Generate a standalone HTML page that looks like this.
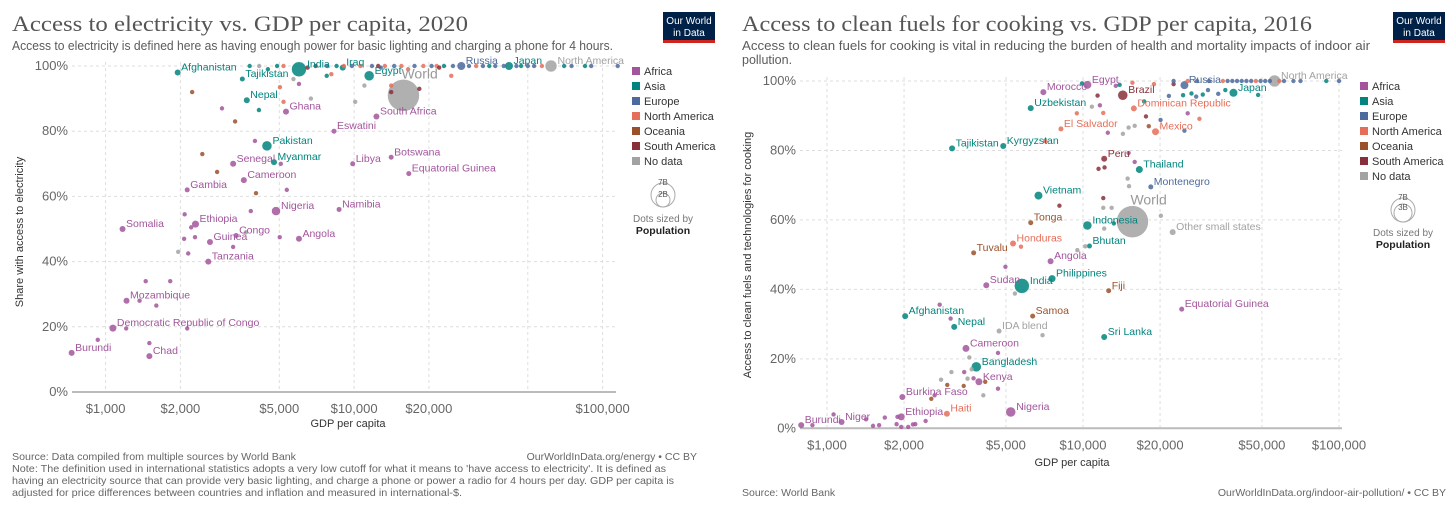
<!DOCTYPE html>
<html><head><meta charset="utf-8"><style>
html,body{margin:0;padding:0;background:#fff;}
svg{display:block;font-family:"Liberation Sans",sans-serif;}
</style></head><body>
<svg id="root" width="1456" height="524" viewBox="0 0 1456 524" xmlns="http://www.w3.org/2000/svg">
<rect x="0" y="0" width="1456" height="524" fill="#fff"/>
<g id="c1">
  <text x="12" y="31" font-family="Liberation Serif,serif" font-size="22" fill="#555" textLength="456" lengthAdjust="spacingAndGlyphs">Access to electricity vs. GDP per capita, 2020</text>
  <text x="12" y="50" font-size="12.5" fill="#5b5b5b" textLength="601" lengthAdjust="spacingAndGlyphs">Access to electricity is defined here as having enough power for basic lighting and charging a phone for 4 hours.</text>
  <g><rect x="663" y="12" width="52" height="30" fill="#002147"/><rect x="663" y="40" width="52" height="3" fill="#ce261e"/><text x="689" y="24" font-size="10" fill="#fff" text-anchor="middle">Our World</text><text x="689" y="36" font-size="10" fill="#fff" text-anchor="middle">in Data</text></g>
  <text transform="translate(23,232) rotate(-90)" font-size="11" fill="#333" text-anchor="middle">Share with access to electricity</text>
  <text x="348" y="427" font-size="11" fill="#333" text-anchor="middle">GDP per capita</text>
  <g id="c1grid"></g><g id="c1dots"></g><g id="c1labels"></g>
  <g font-size="11" fill="#333" id="c1leg"></g>
  <g><circle cx="663" cy="195" r="12" fill="none" stroke="#aaa"/><circle cx="663" cy="200" r="7" fill="none" stroke="#aaa"/><text x="663" y="185" font-size="8" fill="#555" text-anchor="middle">7B</text><text x="663" y="197" font-size="8" fill="#555" text-anchor="middle">2B</text><text x="663" y="222" font-size="10" fill="#777" text-anchor="middle">Dots sized by</text><text x="663" y="234" font-size="10.5" fill="#222" font-weight="bold" text-anchor="middle">Population</text></g>
  <g font-size="10.5" fill="#666">
    <text x="12" y="460" textLength="284" lengthAdjust="spacingAndGlyphs">Source: Data compiled from multiple sources by World Bank</text>
    <text x="697" y="460" text-anchor="end">OurWorldInData.org/energy • CC BY</text>
    <text x="12" y="472" textLength="654" lengthAdjust="spacingAndGlyphs">Note: The definition used in international statistics adopts a very low cutoff for what it means to 'have access to electricity'. It is defined as</text>
    <text x="12" y="484" textLength="662" lengthAdjust="spacingAndGlyphs">having an electricity source that can provide very basic lighting, and charge a phone or power a radio for 4 hours per day. GDP per capita is</text>
    <text x="12" y="496" textLength="450" lengthAdjust="spacingAndGlyphs">adjusted for price differences between countries and inflation and measured in international-$.</text>
  </g>
</g>
<g id="c2">
  <text x="742" y="31" font-family="Liberation Serif,serif" font-size="22" fill="#555" textLength="570" lengthAdjust="spacingAndGlyphs">Access to clean fuels for cooking vs. GDP per capita, 2016</text>
  <text x="742" y="50" font-size="12.5" fill="#5b5b5b" textLength="628" lengthAdjust="spacingAndGlyphs">Access to clean fuels for cooking is vital in reducing the burden of health and mortality impacts of indoor air</text>
  <text x="742" y="64" font-size="12.5" fill="#5b5b5b">pollution.</text>
  <g><rect x="1393" y="12" width="52" height="30" fill="#002147"/><rect x="1393" y="40" width="52" height="3" fill="#ce261e"/><text x="1419" y="24" font-size="10" fill="#fff" text-anchor="middle">Our World</text><text x="1419" y="36" font-size="10" fill="#fff" text-anchor="middle">in Data</text></g>
  <text transform="translate(751,255) rotate(-90)" font-size="11" fill="#333" text-anchor="middle">Access to clean fuels and technologies for cooking</text>
  <text x="1072" y="466" font-size="11" fill="#333" text-anchor="middle">GDP per capita</text>
  <g id="c2grid"></g><g id="c2dots"></g><g id="c2labels"></g>
  <g font-size="11" fill="#333" id="c2leg"></g>
  <g><circle cx="1403" cy="210" r="12" fill="none" stroke="#aaa"/><circle cx="1403" cy="213" r="9" fill="none" stroke="#aaa"/><text x="1403" y="200" font-size="8" fill="#555" text-anchor="middle">7B</text><text x="1403" y="210" font-size="8" fill="#555" text-anchor="middle">3B</text><text x="1403" y="236" font-size="10" fill="#777" text-anchor="middle">Dots sized by</text><text x="1403" y="248" font-size="10.5" fill="#222" font-weight="bold" text-anchor="middle">Population</text></g>
  <g font-size="10.5" fill="#666">
    <text x="742" y="496">Source: World Bank</text>
    <text x="1446" y="496" text-anchor="end">OurWorldInData.org/indoor-air-pollution/ • CC BY</text>
  </g>
</g>
</svg>
<script>
const regionNames = ["Africa","Asia","Europe","North America","Oceania","South America","No data"];
const regionColors = {A:"#a2559c",S:"#00847e",E:"#4c6a9c",N:"#e56e5a",O:"#9a5129",M:"#883039",X:"#a2a2a2"};
const regionKeys = ["A","S","E","N","O","M","X"];
const yTicks = [0,20,40,60,80,100];

const c1XTicks = [1000,2000,5000,10000,20000,100000];
const c1XTickLabels = ["$1,000","$2,000","$5,000","$10,000","$20,000","$100,000"];
const c1XGrid = [1000,2000,5000,10000,20000,50000,100000];
const c1Gdp = [730,1500,1070,1214,1170,2130,3260,3600,2300,2630,2590,3350,4850,6000,8700,4460,4760,5320,3700,8300,9870,14100,16600,12300,15800,6000,1950,3550,9000,11500,27000,42000,62000,
 2230,2940,3320,4140,2450,2810,3990,5070,4030,5360,3840,2080,2210,2290,2070,1960,2150,3260,3670,5020,1450,1820,1370,1600,1210,2130,930,1500,5030,5200,6700,5700,6000,10100,11000,14100,14100,18300,7760,8100,24600,
 3800,4150,4900,5200,7000,7800,8500,9100,9800,10600,11800,12500,13300,14500,15500,17500,19000,20500,21500,23000,25000,29000,31000,33000,35000,37000,40000,45000,47000,50000,53000,57000,70000,75000,85000,90000,115000,4500,6500,12800,16500,22000];
const c1Pct = [12,11,19.6,28,50,62,70,65,51.5,46,40,48,55.5,47,56,75.5,70.5,86,89.5,80,70,72,67,84.5,91,99,98,96,99.5,97,100,100,100,
 92,87,83,86.5,73,67.5,77,70,61,62,55.5,54.5,50.5,47.5,47,43,42.5,44.5,49,47.5,34,34,28,26.5,19.5,19.5,16,15,93.5,89,90,96,94.5,89,94,94,92,93,97,97.5,97,
 100,100,100,100,100,100,100,100,100,100,100,100,100,100,100,100,100,100,100,100,100,100,100,100,100,100,100,100,100,100,100,100,100,100,100,100,100,99,99.5,99.5,99,99.5];
const c1Reg = ["A","A","A","A","A","A","A","A","A","A","A","A","A","A","A","S","S","A","S","A","A","A","A","A","X","S","S","S","S","S","E","S","X",
 "O","A","O","S","O","O","A","A","O","A","A","A","A","A","A","X","A","A","X","A","A","A","A","A","A","A","A","A","N","N","X","X","A","X","X","N","M","M","S","N","N",
 "S","X","S","N","M","E","S","N","E","N","E","M","N","E","N","E","N","E","N","S","E","E","N","E","S","E","E","E","S","E","E","N","S","E","S","E","E","S","M","E","N","M"];
const c1Pop = [3,3,3.5,3,3,2.5,3,3,3.5,3,3,2.5,4.5,3,2.5,5,3,3,3,2.5,2.5,2.5,2.5,3,16,7.5,3,2.5,3,5,4,4,6];
const c1Lab = ["Burundi","Chad","Democratic Republic of Congo","Mozambique","Somalia","Gambia","Senegal","Cameroon","Ethiopia","Guinea","Tanzania","Congo","Nigeria","Angola","Namibia","Pakistan","Myanmar","Ghana","Nepal","Eswatini","Libya","Botswana","Equatorial Guinea","South Africa","World","India","Afghanistan","Tajikistan","Iraq","Egypt","Russia","Japan","North America"];

const c2XTicks = [1000,2000,5000,10000,20000,50000,100000];
const c2XTickLabels = ["$1,000","$2,000","$5,000","$10,000","$20,000","$50,000","$100,000"];
const c2Gdp = [793,1140,1950,1970,2940,5220,3920,3830,3490,3140,2020,6360,4700,12100,24300,12600,4190,5770,7570,7470,3740,5330,6250,10400,10600,15600,22400,6700,18400,16600,12100,3080,4880,8200,6250,19200,15800,7000,10400,14300,24900,38700,56000,
 877,1061,1420,1513,1598,1682,1870,1885,1950,2076,2166,2213,2428,2632,2555,2755,2790,2950,3040,3062,3420,3435,3540,3597,3674,3737,4080,4150,4655,4655,4977,5420,5725,6950,8090,12000,12000,12940,12100,10210,9505,20150,14940,15130,15920,15070,11500,12140,7130,9460,10830,11640,12000,12500,14320,15070,15920,17330,17620,18070,20090,22590,24600,24900,25640,26530,27680,28500,29370,30780,33750,35970,48310,11400,13430,13900,15600,18930,9910,21650,13200,
 22590,25640,27900,31040,35200,36720,38300,39970,41690,43500,45400,47330,49400,51500,53700,58480,60970,66370,70750,89200,100000];
const c2Pct = [0.9,1.8,3.3,9,4.2,4.7,13.4,17.7,23,29.2,32.3,32.3,28,26.3,34.3,39.6,41.2,41,43.1,48.1,50.5,53.2,59.2,58.4,52.5,59.5,56.5,67,69.5,74.5,77.6,80.6,81.3,86.2,92.2,85.4,92.1,96.8,98.9,95.9,98.8,96.6,100,
 0.9,4.0,2.6,0.7,0.9,3.1,1.2,3.3,0.4,0.4,1.1,1.2,2.1,9.5,8.5,35.6,14.0,12.5,31.6,16.2,12.2,16.2,14.3,20.4,17.0,14.4,9.5,13.4,11.4,21.7,46.5,38.8,52.3,26.8,64.1,66.3,63.5,63.5,57.5,52.4,51.3,61.2,71.9,69.7,76.7,79.3,74.7,75.1,82.7,90.7,92.6,93.0,90.8,85.1,84.8,86.6,87.1,94.1,89.8,87.0,88.8,99.1,95.9,85.7,90.7,96.4,95.5,89.1,96.1,97.4,96.3,97.4,96.0,95.8,98.6,98.9,99.5,99.1,99.3,95.7,59,
 100,100,100,100,100,100,100,100,100,100,100,100,100,100,100,100,100,100,100,100,100];
const c2Reg = ["A","A","A","A","N","A","A","S","A","S","S","O","X","S","A","O","A","S","S","A","O","N","O","S","S","X","X","S","E","S","M","S","S","N","S","N","N","A","A","M","E","S","X",
 "A","A","A","A","A","A","A","A","A","A","A","A","A","A","O","A","X","O","A","X","O","A","X","X","X","A","X","O","A","A","A","X","N","X","M","M","X","X","X","X","X","X","X","X","A","A","M","M","N","N","X","A","N","A","X","X","X","S","M","O","E","M","S","E","A","S","E","N","S","E","E","S","S","M","A","S","N","N","S","E","S",
 "E","N","E","E","N","E","E","E","E","E","E","N","E","E","E","N","E","E","E","S","E"];
const c2Pop = [3,3,3.5,3,3,5,3.5,5,3.5,3,3,2.5,2.5,3,2.5,2.5,3,7.5,3.5,3,2.5,3,2.5,4.5,2.5,16,3,4,2.5,3.5,3,3,3,2.5,3,3.5,3,3,4,5,4,4,6];
const c2Lab = ["Burundi","Niger","Ethiopia","Burkina Faso","Haiti","Nigeria","Kenya","Bangladesh","Cameroon","Nepal","Afghanistan","Samoa","IDA blend","Sri Lanka","Equatorial Guinea","Fiji","Sudan","India","Philippines","Angola","Tuvalu","Honduras","Tonga","Indonesia","Bhutan","World","Other small states","Vietnam","Montenegro","Thailand","Peru","Tajikistan","Kyrgyzstan","El Salvador","Uzbekistan","Mexico","Dominican Republic","Morocco","Egypt","Brazil","Russia","Japan","North America"];

const NS = "http://www.w3.org/2000/svg";
function mk(tag, attrs, parent){ const e=document.createElementNS(NS,tag); for(const k in attrs) e.setAttribute(k,attrs[k]); parent.appendChild(e); return e; }

function drawChart(p, gdp, pct, reg, pop, lab, xTicks, xTickLabels, xGrid){
  const xs = v => p.x0 + (Math.log10(v)-3)*p.dec;
  const ys = v => p.y0 - v*p.py;
  const grid = document.getElementById(p.id+"grid");
  for (const t of yTicks){
    const y = ys(t);
    if (t>0){
      const l = mk("line",{x1:p.left,x2:p.right,y1:y,y2:y,stroke:"#ddd","stroke-dasharray":"3,3"},grid);
      
      
    }
    const tx = mk("text",{x:p.left-4,y:y+4,"font-size":13,fill:"#666","text-anchor":"end"},grid);
    tx.textContent = t+"%";
    
    
  }
  for (const g of xGrid){
    const x = xs(g);
    const l = mk("line",{x1:x,x2:x,y1:ys(100)-4,y2:ys(0),stroke:"#ddd","stroke-dasharray":"3,3"},grid);
    
    
  }
  xTicks.forEach((g,i)=>{
    const tx = mk("text",{x:xs(g),y:ys(0)+21,"font-size":13,fill:"#666","text-anchor":"middle"},grid);
    tx.textContent = xTickLabels[i];
    
    
  });
  const ax = mk("line",{x1:p.left,x2:p.right,y1:ys(0),y2:ys(0),stroke:"#bbb","stroke-width":2},grid);
  
  
  const dots = document.getElementById(p.id+"dots");
  const labels = document.getElementById(p.id+"labels");
  const order = gdp.map((_,i)=>i).sort((a,b)=>(pop[b]||2.2)-(pop[a]||2.2));
  for (const i of order){
    const r = pop[i] || 2.2;
    const c = mk("circle",{cx:xs(gdp[i]),cy:ys(pct[i]),r:r,fill:regionColors[reg[i]],"fill-opacity":0.85,stroke:r>4?"#fff":"none","stroke-width":0.5},dots);
    
    
  }
  lab.forEach((name,i)=>{
    const r = pop[i] || 2.2;
    const big = name==="World";
    const t = mk("text",{x:xs(gdp[i])+(big?-2:r+0.5),y:ys(pct[i])-(big?r+1:2),"font-size":big?14:10.5,fill:big?"#999":regionColors[reg[i]]},labels);
    t.textContent = name;
    
    
  });
  const leg = document.getElementById(p.id+"leg");
  regionKeys.forEach((k,i)=>{
    const y = p.legY + i*15;
    const s = mk("rect",{x:p.legX,y:y-8,width:8,height:8,fill:regionColors[k]},leg);
    
    
    const t = mk("text",{x:p.legX+12,y:y,"font-size":11,fill:"#333"},leg);
    t.textContent = regionNames[i];
    
    
  });
}
drawChart({id:"c1",x0:105.6,dec:248.5,y0:392,py:3.26,left:72,right:616,legX:632,legY:75},
  c1Gdp,c1Pct,c1Reg,c1Pop,c1Lab,c1XTicks,c1XTickLabels,c1XGrid);
drawChart({id:"c2",x0:827,dec:256,y0:428.3,py:3.473,left:800,right:1342,legX:1360,legY:90},
  c2Gdp,c2Pct,c2Reg,c2Pop,c2Lab,c2XTicks,c2XTickLabels,c2XTicks);
</script>
</body></html>
